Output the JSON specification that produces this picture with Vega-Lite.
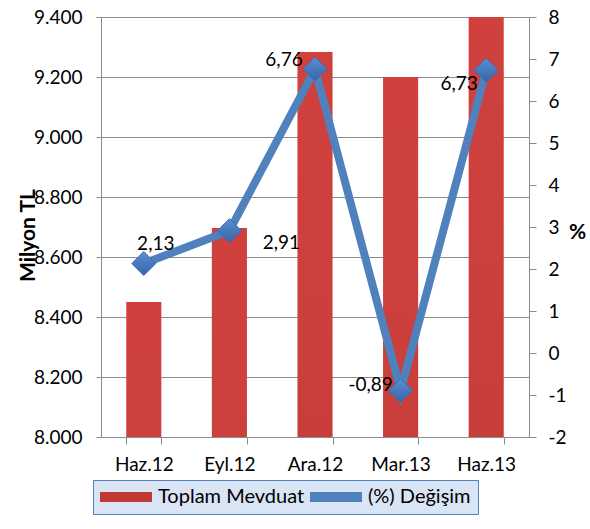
{
  "$schema": "https://vega.github.io/schema/vega-lite/v6.json",
  "width": 428,
  "height": 420,
  "autosize": "none",
  "padding": {"left": 101, "top": 17, "right": 61, "bottom": 92},
  "background": "white",
  "data": {
    "values": [
      {"ay": "Haz.12", "mevduat": 8450, "degisim": 2.13},
      {"ay": "Eyl.12", "mevduat": 8697, "degisim": 2.91},
      {"ay": "Ara.12", "mevduat": 9283, "degisim": 6.76},
      {"ay": "Mar.13", "mevduat": 9200, "degisim": -0.89},
      {"ay": "Haz.13", "mevduat": 9400, "degisim": 6.73}
    ]
  },
  "encoding": {
    "x": {
      "field": "ay",
      "type": "nominal",
      "sort": null,
      "scale": {"paddingInner": 0.59, "paddingOuter": 0.295},
      "axis": {
        "title": null,
        "labelAngle": 0,
        "tickBand": "extent",
        "tickSize": 7,
        "labelPadding": 11,
        "domainColor": "#8c8c8c",
        "tickColor": "#8c8c8c"
      }
    }
  },
  "layer": [
    {
      "mark": {
        "type": "bar",
        "clip": true,
        "color": {
          "gradient": "linear",
          "x1": 0, "y1": 0, "x2": 0, "y2": 1,
          "stops": [
            {"offset": 0, "color": "#d0413e"},
            {"offset": 1, "color": "#992a2a"}
          ]
        }
      },
      "encoding": {
        "y": {
          "field": "mevduat",
          "type": "quantitative",
          "scale": {"domain": [8000, 9400], "zero": false, "nice": false},
          "axis": {
            "title": "Milyon TL",
            "values": [8000, 8200, 8400, 8600, 8800, 9000, 9200, 9400],
            "format": ",.0f",
            "grid": true,
            "gridColor": "#8c8c8c",
            "gridWidth": 1,
            "domainColor": "#8c8c8c",
            "tickColor": "#8c8c8c",
            "tickSize": 5,
            "labelPadding": 14,
            "titleFontWeight": "bold",
            "titleFontSize": 21,
            "titleAngle": -90,
            "titleX": -73,
            "titleY": 218,
            "titleAlign": "center",
            "titleBaseline": "middle"
          }
        }
      }
    },
    {
      "encoding": {
        "y": {
          "field": "degisim",
          "type": "quantitative",
          "scale": {"domain": [-2, 8], "nice": false, "zero": false},
          "axis": {
            "orient": "right",
            "title": "%",
            "values": [-2, -1, 0, 1, 2, 3, 4, 5, 6, 7, 8],
            "format": "d",
            "grid": false,
            "domainColor": "#8c8c8c",
            "tickColor": "#8c8c8c",
            "tickSize": 7,
            "labelPadding": 12,
            "titleFontWeight": "bold",
            "titleFontSize": 21,
            "titleAngle": 0,
            "titleX": 48,
            "titleY": 215,
            "titleAlign": "center",
            "titleBaseline": "middle"
          }
        }
      },
      "layer": [
        {
          "mark": {"type": "line", "color": "#4f81bd", "strokeWidth": 8, "strokeJoin": "miter"}
        },
        {
          "mark": {
            "type": "point",
            "shape": "diamond",
            "filled": true,
            "size": 576,
            "opacity": 1,
            "fill": {
              "gradient": "linear",
              "x1": 0, "y1": 0, "x2": 0, "y2": 1,
              "stops": [
                {"offset": 0, "color": "#5a8fd2"},
                {"offset": 1, "color": "#3465a8"}
              ]
            },
            "stroke": "#3d6cb0",
            "strokeWidth": 1
          }
        },
        {
          "mark": {"type": "point", "filled": true, "opacity": 0, "size": 10},
          "encoding": {
            "color": {
              "datum": "(%) Değişim",
              "scale": {"domain": ["Toplam Mevduat", "(%) Değişim"], "range": ["#c03a35", "#4f81bd"]},
              "legend": {
                "title": null,
                "orient": "none",
                "legendX": -8,
                "legendY": 463,
                "direction": "horizontal",
                "padding": 7,
                "strokeColor": "#4f81bd",
                "fillColor": "#d9e4f5",
                "labelFontSize": 20,
                "labelColor": "#000000",
                "labelOffset": 38,
                "columnPadding": 5,
                "symbolSize": 400,
                "symbolOpacity": 1,
                "symbolStrokeWidth": 0,
                "symbolType": "M-1,-0.5L4.2,-0.5L4.2,0.5L-1,0.5Z"
              }
            }
          }
        },
        {
          "transform": [{"filter": "datum.ay === 'Haz.12'"}],
          "mark": {"type": "text", "dx": 12, "dy": -20, "fontSize": 19, "color": "#000000"},
          "encoding": {"text": {"field": "degisim", "type": "quantitative", "format": ".2f"}}
        },
        {
          "transform": [{"filter": "datum.ay === 'Eyl.12'"}],
          "mark": {"type": "text", "dx": 52, "dy": 12, "fontSize": 19, "color": "#000000"},
          "encoding": {"text": {"field": "degisim", "type": "quantitative", "format": ".2f"}}
        },
        {
          "transform": [{"filter": "datum.ay === 'Ara.12'"}],
          "mark": {"type": "text", "dx": -31, "dy": -9, "fontSize": 19, "color": "#000000"},
          "encoding": {"text": {"field": "degisim", "type": "quantitative", "format": ".2f"}}
        },
        {
          "transform": [{"filter": "datum.ay === 'Mar.13'"}],
          "mark": {"type": "text", "dx": -30, "dy": -5, "fontSize": 19, "color": "#000000"},
          "encoding": {"text": {"field": "degisim", "type": "quantitative", "format": ".2f"}}
        },
        {
          "transform": [{"filter": "datum.ay === 'Haz.13'"}],
          "mark": {"type": "text", "dx": -27, "dy": 14, "fontSize": 19, "color": "#000000"},
          "encoding": {"text": {"field": "degisim", "type": "quantitative", "format": ".2f"}}
        }
      ]
    }
  ],
  "resolve": {"scale": {"y": "independent"}},
  "config": {
    "font": "Lato",
    "view": {"stroke": null},
    "locale": {
      "number": {"decimal": ",", "thousands": ".", "grouping": [3], "currency": ["", " TL"], "minus": "-"}
    },
    "axis": {
      "labelFont": "Lato",
      "labelFontSize": 19,
      "labelColor": "#000000",
      "titleFont": "Lato",
      "titleFontSize": 19,
      "titleColor": "#000000"
    },
    "legend": {"labelFont": "Lato"}
  }
}
